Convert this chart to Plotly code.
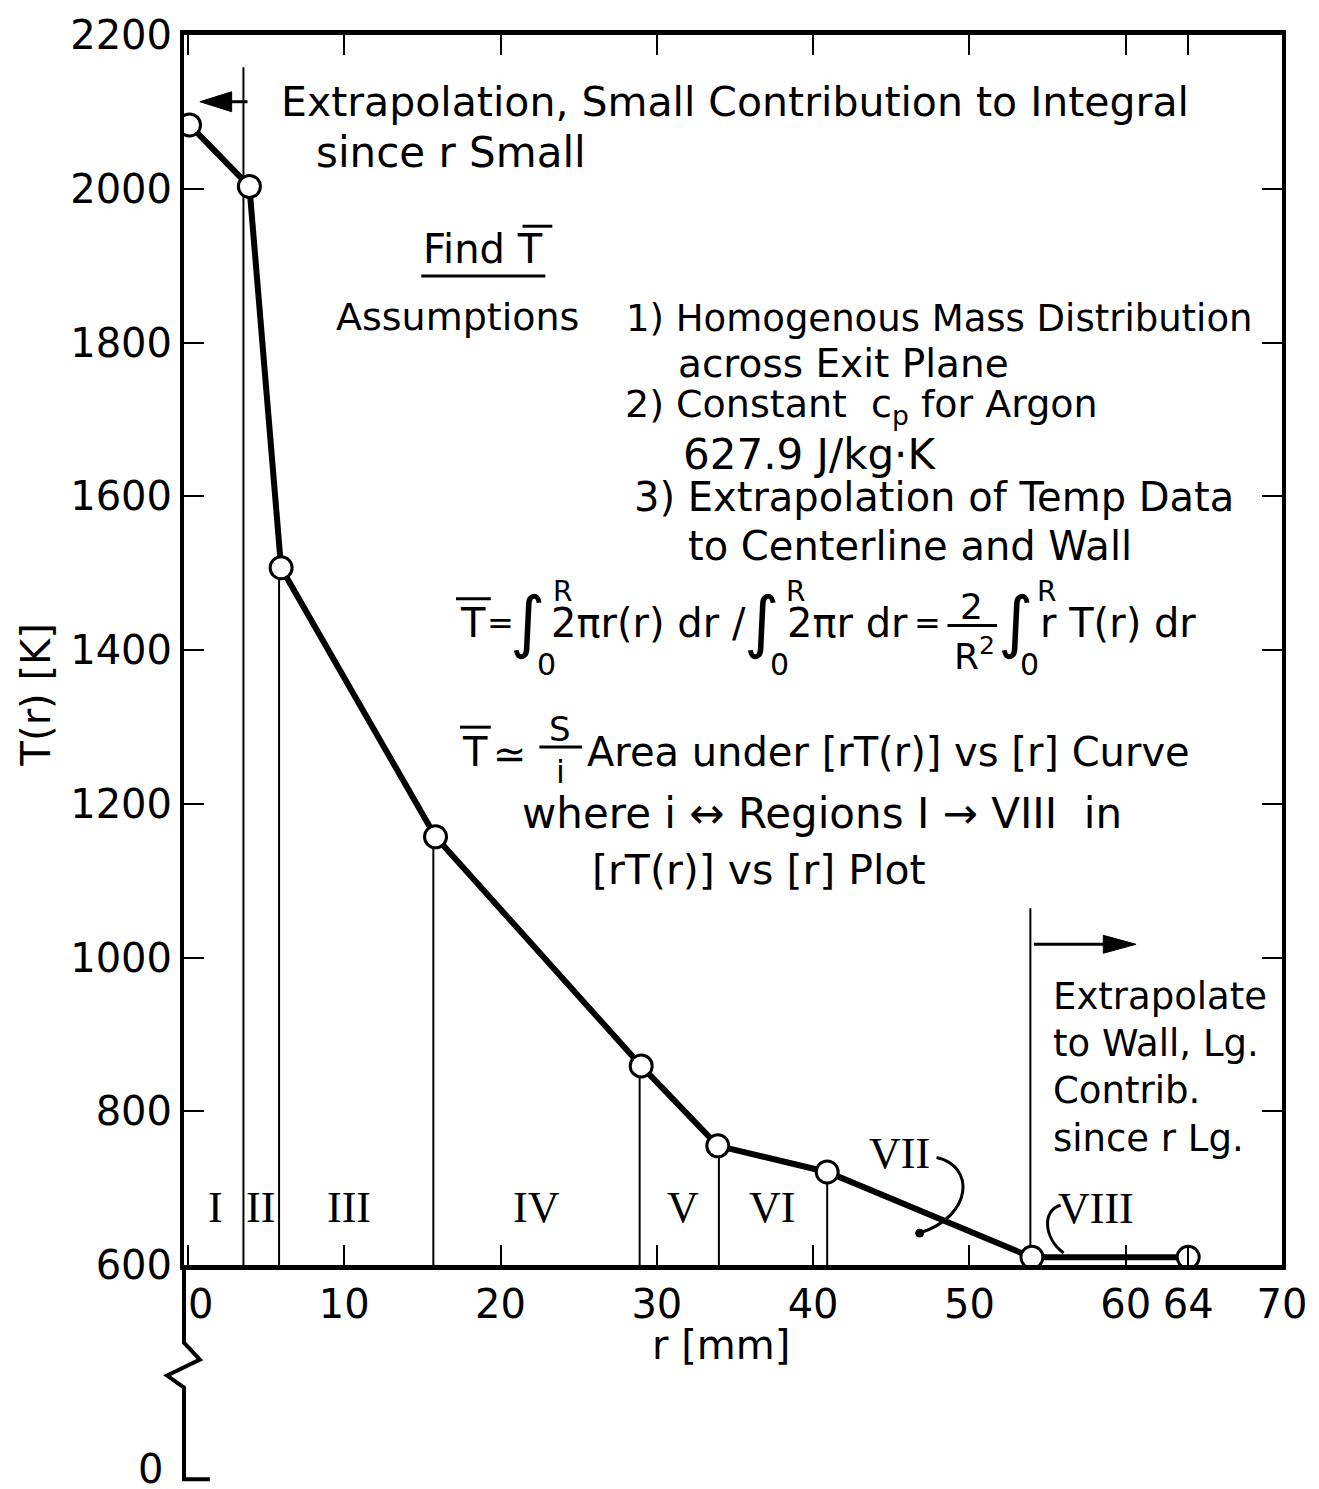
import plotly.graph_objects as go

# ---------------- data ----------------
r_mm = [0.1, 3.93, 5.96, 15.84, 29.0, 33.9, 40.9, 54.0, 64.0]
T_K = [2083, 2003, 1507, 1157, 859, 755, 721, 610, 610]

boundary_r = [3.55, 5.83, 15.7, 28.9, 33.97, 40.9, 53.9]
boundary_top = [2158, 1507, 1157, 859, 755, 721, 1064]

region_names = ["I", "II", "III", "IV", "V", "VI", "VII", "VIII"]
region_r = [1.75, 4.65, 10.3, 22.3, 31.7, 37.4, 45.5, 58.1]
region_T = [675, 675, 675, 675, 675, 675, 745, 674]

x_tickvals = [0, 10, 20, 30, 40, 50, 60, 64, 70]
x_ticktext = ["\u20070", "10", "20", "30", "40", "50", "60", "64", "70"]
y_tickvals = [600, 800, 1000, 1200, 1400, 1600, 1800, 2000, 2200]

# ---------------- geometry helpers (for annotations) ----------------
W, H = 1319, 1489
L, R, TOP, BOT = 184, 1290, 30, 1265
XMIN, XMAX = -0.253, 70.0
YMIN, YMAX = 600, 2200


def X(px):
    return XMIN + (px - L) / (R - L) * (XMAX - XMIN)


def Y(py):
    return YMAX - (py - TOP) / (BOT - TOP) * (YMAX - YMIN)


def PX(px):
    return (px - L) / (R - L)


def PY(py):
    return (BOT - py) / (BOT - TOP)


FONT = "DejaVu Sans"
SERIF = "Liberation Serif"
FS = 40

fig = go.Figure()

# boundary lines
bx, by = [], []
for b, t in zip(boundary_r, boundary_top):
    bx += [b, b, None]
    by += [YMIN, t, None]
fig.add_trace(go.Scatter(x=bx, y=by, mode="lines",
                         line=dict(color="black", width=2),
                         hoverinfo="skip", showlegend=False))

# main curve
fig.add_trace(go.Scatter(x=r_mm, y=T_K, mode="lines+markers",
                         line=dict(color="black", width=6),
                         marker=dict(size=22, color="white",
                                     line=dict(color="black", width=3)),
                         showlegend=False))

ann = []


def txt(s, px, py, size=FS, xanchor="left", family=FONT, **kw):
    ann.append(dict(text=s, x=X(px), y=Y(py), xref="x", yref="y",
                    xanchor=xanchor, yanchor="middle", showarrow=False,
                    font=dict(family=family, size=size, color="black"), **kw))


shapes = []


def seg(p1, p2, w=3):
    shapes.append(dict(type="line", xref="x", yref="y",
                       x0=X(p1[0]), y0=Y(p1[1]), x1=X(p2[0]), y1=Y(p2[1]),
                       line=dict(color="black", width=w)))


def tri(pts):
    path = "M " + " L ".join(f"{X(a)},{Y(b)}" for a, b in pts) + " Z"
    shapes.append(dict(type="path", xref="x", yref="y", path=path,
                       fillcolor="black", line=dict(color="black", width=1)))


# top notes
txt("Extrapolation, Small Contribution to Integral", 280, 97, size=41)
txt("since r Small", 315, 148, size=42)
txt("Find T", 423, 245)
seg((423, 272), (548, 272))
seg((525, 222), (555, 222))
txt("Assumptions", 335, 313, size=38)
txt("1) Homogenous Mass Distribution", 627, 315, size=37)
txt("across Exit Plane", 680, 360, size=39)
txt("2) Constant  c<sub>p</sub> for Argon", 626, 403, size=38)
txt("627.9 J/kg·K", 685, 451, size=42)
txt("3) Extrapolation of Temp Data", 635, 494)
txt("to Centerline and Wall", 690, 543)

# formula line 1
txt("T", 475, 620, xanchor="center")
seg((458, 596), (493, 596))
txt("=", 503, 620, size=32, xanchor="center")
for cx, rx, zx in [(530, 565, 549), (766, 800, 784), (1022, 1053, 1036)]:
    txt("\u222B", cx, 619, size=68, xanchor="center")
    txt("R", rx, 589, size=28, xanchor="center")
    txt("0", zx, 662, size=30, xanchor="center")
txt("2\u03C0r(r) dr /", 552, 620)
txt("2\u03C0r dr", 789, 620)
txt("=", 933, 620, size=32, xanchor="center")
txt("2", 977, 604, size=36, xanchor="center")
seg((953, 623), (1003, 623))
txt("R<sup>2</sup>", 980, 652, size=36, xanchor="center")
txt("r T(r) dr", 1044, 620)

# formula line 2
txt("T", 477, 750, xanchor="center")
seg((462, 725), (493, 725))
txt("\u2243", 512, 752, xanchor="center")
txt("S", 563, 727, size=34, xanchor="center")
seg((542, 745), (585, 745))
txt("i", 563, 770, size=32, xanchor="center")
txt("Area under [rT(r)] vs [r] Curve", 588, 750)
txt("where i \u2194 Regions I \u2192 VIII  in", 522, 812, size=42)
txt("[rT(r)] vs [r] Plot", 593, 868, size=41)

# right note
for s, py in zip(["Extrapolate", "to Wall, Lg.", "Contrib.", "since r Lg."],
                 [995, 1043, 1090, 1138]):
    txt(s, 1057, py, size=37)

# region numerals
for name, rr, tt in zip(region_names, region_r, region_T):
    ann.append(dict(text=name, x=rr, y=tt, xref="x", yref="y",
                    xanchor="center", yanchor="middle", showarrow=False,
                    font=dict(family=SERIF, size=44, color="black")))

# arrows (line + filled head)
seg((248, 97), (228, 97))
tri([(200, 97), (232, 87), (232, 107)])
seg((1040, 943), (1115, 943))
tri([(1143, 943), (1110, 934), (1110, 952)])

# leaders for VII and VIII
p = f"M {X(942)},{Y(1157)} C {X(980)},{Y(1165)} {X(980)},{Y(1215)} {X(925)},{Y(1233)}"
shapes.append(dict(type="path", xref="x", yref="y", path=p,
                   line=dict(color="black", width=3)))
shapes.append(dict(type="circle", xref="x", yref="y",
                   x0=X(921), x1=X(929), y0=Y(1237), y1=Y(1229),
                   fillcolor="black", line=dict(color="black", width=1)))
p = f"M {X(1067)},{Y(1205)} C {X(1048)},{Y(1210)} {X(1050)},{Y(1238)} {X(1070)},{Y(1253)}"
shapes.append(dict(type="path", xref="x", yref="y", path=p,
                   line=dict(color="black", width=3)))

# extension of the left axis below 600 with a break
ext = [(184, 1265), (184, 1343), (200, 1360), (167, 1376), (184, 1388),
       (184, 1480), (210, 1480)]
path = "M " + " L ".join(f"{PX(a):.5f},{PY(b):.5f}" for a, b in ext)
shapes.append(dict(type="path", xref="paper", yref="paper", path=path,
                   line=dict(color="black", width=4)))
ann.append(dict(text="0", x=PX(150), y=PY(1470), xref="paper", yref="paper",
                xanchor="center", yanchor="middle", showarrow=False,
                font=dict(family=FONT, size=FS, color="black")))

# axis titles
ann.append(dict(text="T(r) [K]", x=PX(35), y=PY(693), xref="paper", yref="paper",
                xanchor="center", yanchor="middle", textangle=-90, showarrow=False,
                font=dict(family=FONT, size=FS, color="black")))
ann.append(dict(text="r [mm]", x=PX(725), y=PY(1345), xref="paper", yref="paper",
                xanchor="center", yanchor="middle", showarrow=False,
                font=dict(family=FONT, size=FS, color="black")))

fig.update_layout(
    width=W, height=H,
    margin=dict(l=L, r=W - R, t=TOP, b=H - BOT),
    paper_bgcolor="white", plot_bgcolor="white",
    annotations=ann, shapes=shapes,
    xaxis=dict(range=[XMIN, XMAX], tickvals=x_tickvals, ticktext=x_ticktext,
               ticks="inside", ticklen=20, tickwidth=2, tickcolor="black",
               showline=True, linecolor="black", linewidth=5, mirror="ticks",
               showgrid=False, zeroline=False,
               tickfont=dict(family=FONT, size=FS, color="black")),
    yaxis=dict(range=[YMIN, YMAX], tickvals=y_tickvals,
               ticks="inside", ticklen=20, tickwidth=2, tickcolor="black",
               showline=True, linecolor="black", linewidth=4, mirror="ticks",
               showgrid=False, zeroline=False,
               tickfont=dict(family=FONT, size=FS, color="black")),
)

fig.write_html("out.html")
